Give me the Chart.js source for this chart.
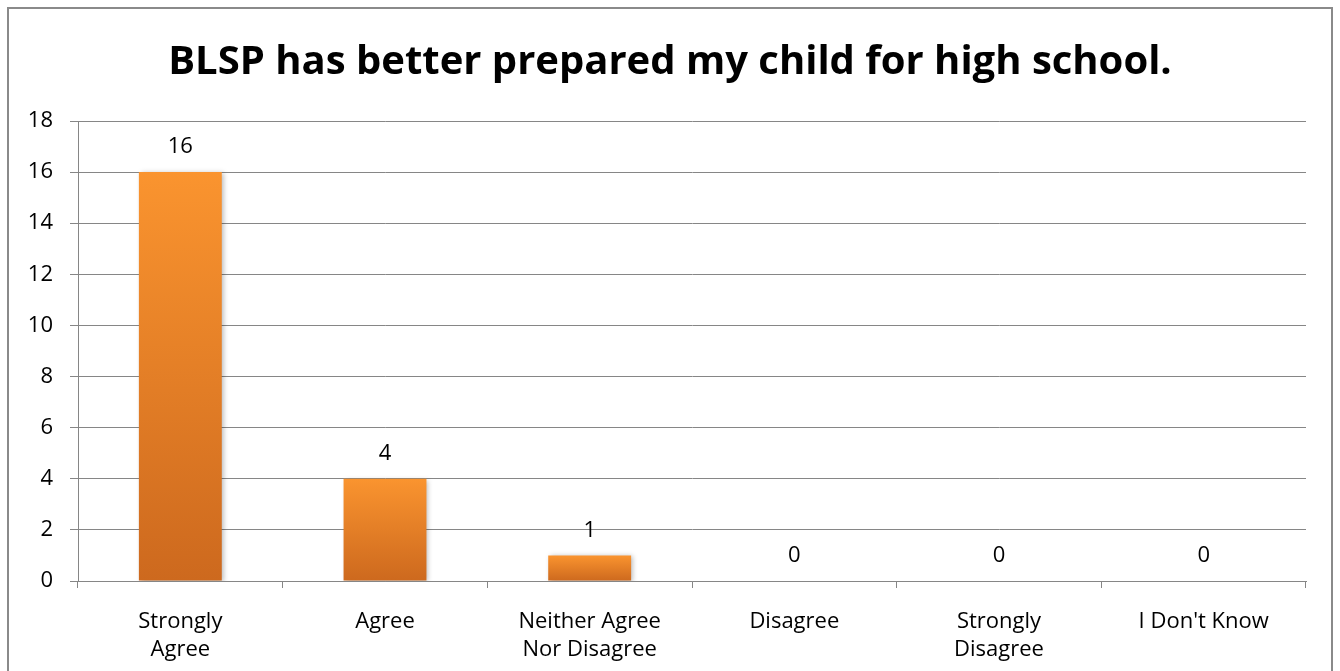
<!DOCTYPE html>
<html>
<head>
<meta charset="utf-8">
<script src="https://cdn.jsdelivr.net/npm/chart.js@4.4.0/dist/chart.umd.min.js"></script>
<style>
    html, body { margin: 0; padding: 0; background: #fff; }
    #wrap { width: 1340px; height: 671px; }
</style>
</head>
<body>
<div id="wrap"><canvas id="myChart" width="1340" height="671"></canvas></div>
<script>
    const titleText = "BLSP has better prepared my child for high school.";
    const categories = [["Strongly", "Agree"], "Agree", ["Neither Agree", "Nor Disagree"], "Disagree", ["Strongly", "Disagree"], "I Don't Know"];
    const responses = [16, 4, 1, 0, 0, 0];
    const yTicks = [0, 2, 4, 6, 8, 10, 12, 14, 16, 18];

    const fontFamily = "'Open Sans', sans-serif";
    const gridGray = "#868686";

    // frame round the whole chart, title centred on the whole canvas
    const framePlugin = {
        id: "frame",
        afterLayout(chart) {
            if (chart.titleBlock) {
                chart.titleBlock.left = 0;
                chart.titleBlock.right = chart.width;
                chart.titleBlock.width = chart.width;
            }
        },
        beforeDraw(chart) {
            let c = chart.ctx;
            c.save();
            c.fillStyle = "#fff";
            c.fillRect(0, 0, chart.width, chart.height);
            c.strokeStyle = "#8a8a8a";
            c.lineWidth = 2;
            c.strokeRect(8, 8, chart.width - 16, chart.height + 20);
            c.restore();
        }
    };

    // soft shadow under the bars
    const shadowPlugin = {
        id: "barShadow",
        beforeDatasetDraw(chart) {
            let c = chart.ctx;
            c.save();
            c.shadowColor = "rgba(0,0,0,0.28)";
            c.shadowBlur = 5;
            c.shadowOffsetX = 2;
            c.shadowOffsetY = 1;
        },
        afterDatasetDraw(chart) {
            chart.ctx.restore();
        }
    };

    // value labels above each bar
    const valueLabels = {
        id: "valueLabels",
        afterDatasetsDraw(chart) {
            let c = chart.ctx;
            let meta = chart.getDatasetMeta(0);
            c.save();
            c.font = "22px " + fontFamily;
            c.fillStyle = "#000";
            c.textAlign = "center";
            c.textBaseline = "middle";
            meta.data.forEach(function(bar, i) {
                c.fillText(String(responses[i]), bar.x, bar.y - 25);
            });
            c.restore();
        }
    };

    function barGradient(context) {
        let chart = context.chart;
        if (!chart.chartArea) return "#F08A2C";
        let y = chart.scales.y;
        let v = context.raw || 0;
        let top = y.getPixelForValue(v);
        let base = y.getPixelForValue(0);
        if (base - top < 1) return "#F08A2C";
        let g = chart.ctx.createLinearGradient(0, top, 0, base);
        g.addColorStop(0, "#FA942F");
        g.addColorStop(1, "#CD691E");
        return g;
    }

    let ctx = document.getElementById("myChart");
    let myChart = new Chart(ctx.getContext("2d"), {
        type: "bar",
        data: {
            labels: categories,
            datasets: [{
                data: responses,
                backgroundColor: barGradient,
                borderWidth: 0,
                categoryPercentage: 1,
                barPercentage: 0.405
            }]
        },
        plugins: [framePlugin, shadowPlugin, valueLabels],
        options: {
            responsive: false,
            animation: false,
            devicePixelRatio: 1,
            layout: { padding: { left: 0, right: 34, top: 0, bottom: 0 } },
            plugins: {
                legend: { display: false },
                tooltip: { enabled: false },
                title: {
                    display: true,
                    text: titleText,
                    color: "#000",
                    font: { family: fontFamily, size: 40, weight: "bold", lineHeight: 1.2 },
                    padding: { top: 39, bottom: 34 }
                }
            },
            scales: {
                x: {
                    afterFit(scale) {
                        scale.height = 90;
                    },
                    grid: {
                        display: true,
                        drawOnChartArea: false,
                        drawTicks: true,
                        tickLength: 7,
                        color: gridGray,
                        offset: true
                    },
                    border: { display: true, color: gridGray, width: 1 },
                    ticks: {
                        color: "#000",
                        padding: 20,
                        maxRotation: 0,
                        autoSkip: false,
                        font: { family: fontFamily, size: 22, lineHeight: 1.27 }
                    }
                },
                y: {
                    min: 0,
                    max: 18,
                    afterBuildTicks(scale) {
                        scale.ticks = yTicks.map(v => ({ value: v }));
                    },
                    afterFit(scale) {
                        scale.width = 78;
                    },
                    grid: {
                        color: gridGray,
                        lineWidth: 1,
                        tickLength: 8
                    },
                    border: { display: true, color: gridGray, width: 1 },
                    ticks: {
                        color: "#000",
                        padding: 17,
                        font: { family: fontFamily, size: 22 }
                    }
                }
            }
        }
    });
</script>
</body>
</html>
